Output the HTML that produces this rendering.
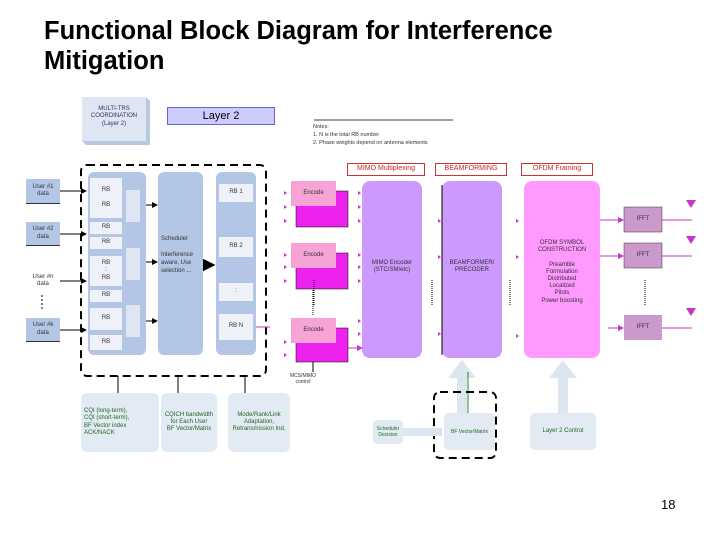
<!DOCTYPE html>
<html><head><style>
body{margin:0;width:720px;height:540px;background:#fff;position:relative;overflow:hidden;font-family:"Liberation Sans",sans-serif}
.a{position:absolute;box-sizing:border-box}
.t{font-size:6px;color:#333;text-align:center;display:flex;align-items:center;justify-content:center;line-height:1.2}
</style></head><body>
<div class="a" style="left:44px;top:16px;font-size:25.5px;font-weight:bold;line-height:30px;color:#000">Functional Block Diagram for Interference<br>Mitigation</div>

<svg class="a" style="left:0;top:0" width="720" height="540">
<defs><marker id="m" markerWidth="6" markerHeight="6" refX="5" refY="3" orient="auto"><path d="M0,0L6,3L0,6z" fill="#cc33cc"/></marker>
<marker id="k" markerWidth="6" markerHeight="6" refX="5" refY="3" orient="auto"><path d="M0,0L6,3L0,6z" fill="#000"/></marker></defs>
<polygon points="82,97 146,97 150,101 150,145 86,145 82,141" fill="#b8c8e0"/>
<rect x="82" y="97" width="64" height="44" fill="#dde6f2"/>
<line x1="314" y1="120" x2="453" y2="120" stroke="#000" stroke-width="0.7"/>
<rect x="81" y="165" width="185" height="211" rx="6" fill="none" stroke="#000" stroke-width="2" stroke-dasharray="8,5"/>
<g stroke="#000" stroke-width="1" marker-end="url(#k)">
<line x1="60" y1="191" x2="86" y2="191"/><line x1="60" y1="234" x2="86" y2="234"/>
<line x1="60" y1="281" x2="86" y2="281"/><line x1="60" y1="330" x2="86" y2="330"/>
<line x1="146" y1="205" x2="157" y2="205"/><line x1="146" y1="262" x2="157" y2="262"/><line x1="146" y1="321" x2="157" y2="321"/>
</g>
<path d="M203,265 L213,265" stroke="#000" stroke-width="2.5" marker-end="url(#k)"/>
<line x1="42" y1="295" x2="42" y2="309" stroke="#000" stroke-dasharray="2,2"/>
<line x1="122" y1="219" x2="146" y2="219" stroke="#000"/><line x1="92" y1="275" x2="122" y2="275" stroke="#000"/>
<g stroke="#000"><line x1="118" y1="376" x2="118" y2="393"/><line x1="178" y1="376" x2="178" y2="393"/><line x1="245" y1="376" x2="245" y2="393"/><line x1="254" y1="327" x2="270" y2="327" stroke="#cc33cc"/></g>
<g>
<rect x="296" y="191" width="52" height="36" fill="#ee22ee" stroke="#000" stroke-width="0.5"/>
<rect x="291" y="181" width="45" height="25" fill="#f7a3d5"/>
<rect x="296" y="253" width="52" height="36" fill="#ee22ee" stroke="#000" stroke-width="0.5"/>
<rect x="291" y="243" width="45" height="25" fill="#f7a3d5"/>
<rect x="296" y="328" width="52" height="34" fill="#ee22ee" stroke="#000" stroke-width="0.5"/>
<rect x="291" y="318" width="45" height="25" fill="#f7a3d5"/>
</g>
<line x1="313" y1="290" x2="313" y2="316" stroke="#000" stroke-dasharray="1,1"/>
<line x1="313" y1="362" x2="313" y2="372" stroke="#000"/>
<rect x="362" y="181" width="60" height="177" rx="8" fill="#cc99ff"/>
<rect x="442" y="181" width="60" height="177" rx="8" fill="#cc99ff"/>
<line x1="442" y1="185" x2="442" y2="355" stroke="#000"/>
<rect x="524" y="181" width="76" height="177" rx="8" fill="#ff99ff"/>
<g stroke="#000" stroke-dasharray="1,1"><line x1="432" y1="280" x2="432" y2="305"/><line x1="510" y1="280" x2="510" y2="305"/><line x1="645" y1="280" x2="645" y2="305"/><line x1="314" y1="280" x2="314" y2="305"/></g>
<g stroke="#cc33cc" stroke-width="1" marker-end="url(#m)">
<line x1="600" y1="220" x2="623" y2="220"/><line x1="600" y1="256" x2="623" y2="256"/><line x1="608" y1="328" x2="623" y2="328"/>
<line x1="348" y1="348" x2="362" y2="348"/>
</g>
<g stroke="#cc33cc"><line x1="662" y1="220" x2="692" y2="220"/><line x1="662" y1="256" x2="692" y2="256"/><line x1="662" y1="328" x2="692" y2="328"/></g>
<g fill="#cc33cc"><path d="M686,200h10l-5,8z"/><path d="M686,236h10l-5,8z"/><path d="M686,308h10l-5,8z"/>
<path d="M284,191l3,2l-3,2z"/><path d="M284,205l3,2l-3,2z"/><path d="M284,219l3,2l-3,2z"/>
<path d="M284,253l3,2l-3,2z"/><path d="M284,265l3,2l-3,2z"/><path d="M284,279l3,2l-3,2z"/>
<path d="M284,340l3,2l-3,2z"/><path d="M284,353l3,2l-3,2z"/>
<path d="M358,191l3,2l-3,2z"/><path d="M358,205l3,2l-3,2z"/><path d="M358,219l3,2l-3,2z"/><path d="M358,253l3,2l-3,2z"/><path d="M358,265l3,2l-3,2z"/><path d="M358,279l3,2l-3,2z"/><path d="M358,319l3,2l-3,2z"/><path d="M358,332l3,2l-3,2z"/>
<path d="M438,219l3,2l-3,2z"/><path d="M438,255l3,2l-3,2z"/><path d="M438,332l3,2l-3,2z"/>
<path d="M516,219l3,2l-3,2z"/><path d="M516,255l3,2l-3,2z"/><path d="M516,334l3,2l-3,2z"/></g>
<rect x="624" y="207" width="38" height="25" fill="#cc99cc" stroke="#333" stroke-width="0.5"/>
<rect x="624" y="243" width="38" height="25" fill="#cc99cc" stroke="#333" stroke-width="0.5"/>
<rect x="624" y="315" width="38" height="25" fill="#cc99cc"/>
<path d="M457,413V378H448L462,360L476,378H467V413z" fill="#dde6f0"/>
<path d="M558,413V378H549L563,360L577,378H568V413z" fill="#dde6f0"/>
<line x1="468" y1="372" x2="468" y2="413" stroke="#228822"/>
<rect x="434" y="392" width="62" height="66" rx="6" fill="none" stroke="#000" stroke-width="2" stroke-dasharray="8,5"/>
<rect x="402" y="428" width="40" height="8" fill="#dde6f0"/>
</svg>

<div class="a t" style="left:82px;top:97px;width:64px;height:40px;color:#336">MULTI-TRS<br>COORDINATION<br>(Layer 2)</div>
<div class="a" style="left:167px;top:107px;width:108px;height:18px;background:#ccccff;border:1px solid #6666cc;font-size:11px;text-align:center;line-height:16px">Layer 2</div>
<div class="a" style="left:313px;top:123px;font-size:5.5px;line-height:8px;color:#333">Notes:<br>1. N is the total RB number<br>2. Phase weights depend on antenna elements</div>

<div class="a t" style="left:26px;top:179px;width:34px;height:25px;background:#b3c6e6;border-bottom:1px solid #333">User #1<br>data</div>
<div class="a t" style="left:26px;top:222px;width:34px;height:24px;background:#b3c6e6;border-bottom:1px solid #333">User #2<br>data</div>
<div class="a t" style="left:26px;top:272px;width:34px;height:18px">User #n<br>data</div>
<div class="a t" style="left:26px;top:318px;width:34px;height:24px;background:#b3c6e6;border-bottom:1px solid #333">User #k<br>data</div>

<div class="a" style="left:88px;top:172px;width:58px;height:183px;background:#b3c6e6;border-radius:6px"></div>
<div class="a t" style="left:90px;top:178px;width:32px;height:40px;background:#eef2f8">RB<br><br>RB</div>
<div class="a t" style="left:90px;top:222px;width:32px;height:12px;background:#eef2f8">RB</div>
<div class="a t" style="left:90px;top:237px;width:32px;height:12px;background:#eef2f8">RB</div>
<div class="a t" style="left:90px;top:256px;width:32px;height:30px;background:#eef2f8">RB<br>:<br>RB</div>
<div class="a t" style="left:90px;top:290px;width:32px;height:12px;background:#eef2f8">RB</div>
<div class="a t" style="left:90px;top:308px;width:32px;height:22px;background:#eef2f8">RB</div>
<div class="a t" style="left:90px;top:335px;width:32px;height:15px;background:#eef2f8">RB</div>
<div class="a" style="left:126px;top:190px;width:14px;height:32px;background:#dde6f2"></div>
<div class="a" style="left:126px;top:248px;width:14px;height:32px;background:#dde6f2"></div>
<div class="a" style="left:126px;top:305px;width:14px;height:32px;background:#dde6f2"></div>

<div class="a" style="left:158px;top:172px;width:45px;height:183px;background:#b3c6e6;border-radius:6px"></div>
<div class="a" style="left:161px;top:235px;font-size:6px;color:#333;line-height:8px">Scheduler<br><br>Interference<br>aware, Use<br>selection ...</div>
<div class="a" style="left:216px;top:172px;width:40px;height:183px;background:#b3c6e6;border-radius:6px"></div>
<div class="a t" style="left:219px;top:184px;width:34px;height:18px;background:#eef2f8">RB 1</div>
<div class="a t" style="left:219px;top:237px;width:34px;height:20px;background:#eef2f8">RB 2</div>
<div class="a t" style="left:219px;top:283px;width:34px;height:18px;background:#eef2f8">:</div>
<div class="a t" style="left:219px;top:314px;width:34px;height:26px;background:#eef2f8">RB N</div>

<div class="a t" style="left:347px;top:163px;width:78px;height:13px;border:1px solid #cc3333;color:#cc2222;font-size:7px">MIMO Multiplexing</div>
<div class="a t" style="left:435px;top:163px;width:72px;height:13px;border:1px solid #cc3333;color:#cc2222;font-size:7px">BEAMFORMING</div>
<div class="a t" style="left:521px;top:163px;width:72px;height:13px;border:1px solid #cc3333;color:#cc2222;font-size:7px">OFDM Framing</div>
<div class="a t" style="left:291px;top:181px;width:45px;height:25px">Encode</div>
<div class="a t" style="left:291px;top:243px;width:45px;height:25px">Encode</div>
<div class="a t" style="left:291px;top:318px;width:45px;height:25px">Encode</div>
<div class="a t" style="left:362px;top:255px;width:60px;height:24px">MIMO Encoder<br>(STC/SM/etc)</div>
<div class="a t" style="left:442px;top:255px;width:60px;height:24px">BEAMFORMER/<br>PRECODER</div>
<div class="a t" style="left:524px;top:240px;width:76px;height:90px;align-items:flex-start">OFDM SYMBOL<br>CONSTRUCTION<br><br>Preamble<br>Formulation<br>Distributed<br>Localized<br>Pilots<br>Power boosting</div>
<div class="a t" style="left:624px;top:207px;width:38px;height:25px">IFFT</div>
<div class="a t" style="left:624px;top:243px;width:38px;height:25px">IFFT</div>
<div class="a t" style="left:624px;top:315px;width:38px;height:25px">IFFT</div>
<div class="a t" style="left:288px;top:372px;width:30px;height:14px;font-size:5px">MCS/MIMO<br>control</div>

<div class="a t" style="left:81px;top:393px;width:78px;height:59px;background:#e2ebf3;border-radius:6px;color:#226622;justify-content:flex-start;text-align:left;padding-left:3px">CQI (long-term),<br>CQI (short-term),<br>BF Vector index<br>ACK/NACK</div>
<div class="a t" style="left:161px;top:393px;width:56px;height:59px;background:#e2ebf3;border-radius:6px;color:#226622">CQICH bandwidth<br>for Each User<br>BF Vector/Matrix</div>
<div class="a t" style="left:228px;top:393px;width:62px;height:59px;background:#e2ebf3;border-radius:6px;color:#226622">Mode/Rank/Link<br>Adaptation,<br>Retransmission Ind.</div>
<div class="a t" style="left:373px;top:420px;width:30px;height:24px;background:#e2ebf3;border-radius:4px;color:#226622;font-size:5px">Scheduler<br>Decision</div>
<div class="a t" style="left:444px;top:413px;width:51px;height:37px;background:#e2ebf3;border-radius:5px;color:#226622;font-size:5px">BF Vector/Matrix</div>
<div class="a t" style="left:530px;top:413px;width:66px;height:37px;background:#e2ebf3;border-radius:5px;color:#226622">Layer 2 Control</div>
<div class="a" style="left:661px;top:497px;font-size:13px">18</div>
</body></html>
